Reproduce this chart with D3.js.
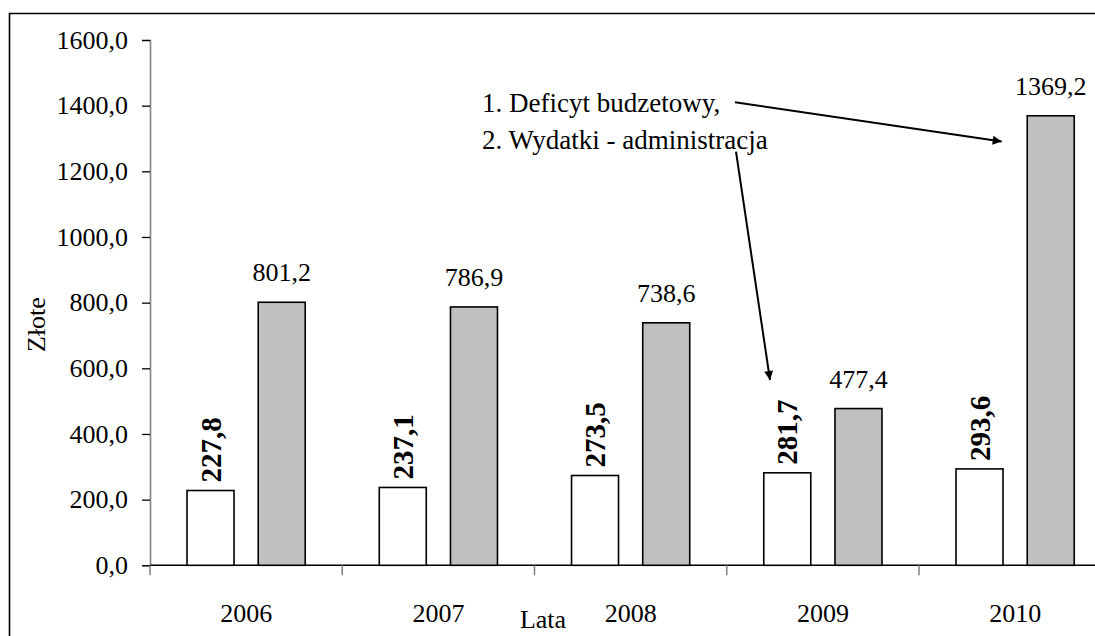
<!DOCTYPE html>
<html>
<head>
<meta charset="utf-8">
<script src="https://cdn.jsdelivr.net/npm/d3@7"></script>
<style>
  html, body { margin: 0; padding: 0; background: #fff; }
  svg { display: block; }
  svg text { font-family: "Liberation Serif", "Times New Roman", serif !important; fill: #000; }
</style>
</head>
<body>
<svg id="chart" width="1095" height="636"></svg>
<script>
const years = ["2006", "2007", "2008", "2009", "2010"];
const administracja = [227.8, 237.1, 273.5, 281.7, 293.6];
const deficyt = [801.2, 786.9, 738.6, 477.4, 1369.2];
const yTicks = [0, 200, 400, 600, 800, 1000, 1200, 1400, 1600];
const seriesKeys = ["administracja", "deficyt"];
const annotationLines = ["1. Deficyt budzetowy,", "2. Wydatki - administracja"];

const fmt = v => d3.format(".1f")(v).replace(".", ",");
const FONT = "'Liberation Serif', 'Times New Roman', serif";

const svg = d3.select("#chart").attr("font-family", FONT);

// outer frame (left and top edges visible, rest cropped)
svg.append("path")
  .attr("d", "M9.5,636 L9.5,13.5 L1095,13.5")
  .attr("fill", "none").attr("stroke", "#000").attr("stroke-width", 1.6);

const x0 = 150, yBase = 565.3, yTop = 40;
const step = 192.25;
const x = d3.scaleBand().domain(years).range([x0, x0 + step * years.length]).padding(0);
const xs = d3.scaleBand().domain(seriesKeys).range([0, x.bandwidth()]).paddingInner(0.34).paddingOuter(0.52);
const y = d3.scaleLinear().domain([0, 1600]).range([yBase, yTop]);

// Y axis
const yAxis = svg.append("g").attr("transform", `translate(${x0},0)`)
  .call(d3.axisLeft(y).tickValues(yTicks).tickFormat(fmt).tickSize(8).tickPadding(14));
yAxis.attr("font-family", FONT).attr("font-size", 26);
yAxis.select(".domain").attr("stroke", "#808080").attr("stroke-width", 1.6);
yAxis.selectAll(".tick line").attr("stroke", "#000").attr("stroke-width", 1.3);
yAxis.selectAll(".tick text").attr("font-size", 26).attr("fill", "#000")
  .style("font-family", FONT);

// X axis baseline
svg.append("line").attr("x1", x0).attr("x2", 1095).attr("y1", yBase).attr("y2", yBase)
  .attr("stroke", "#000").attr("stroke-width", 1.5);
// x ticks at category boundaries
svg.append("g").selectAll("line").data(years).join("line")
  .attr("x1", d => x(d)).attr("x2", d => x(d))
  .attr("y1", yBase).attr("y2", yBase + 10)
  .attr("stroke", "#808080").attr("stroke-width", 1.5);
// x labels
svg.append("g").selectAll("text").data(years).join("text")
  .attr("x", d => x(d) + x.bandwidth() / 2).attr("y", 621.7)
  .attr("text-anchor", "middle").attr("font-size", 26).style("font-family", FONT).text(d => d);

// bars
const g = svg.append("g");
years.forEach((yr, i) => {
  const bx = x(yr);
  const wx = bx + xs("administracja");
  g.append("rect")
    .attr("x", wx).attr("y", y(administracja[i]))
    .attr("width", xs.bandwidth()).attr("height", yBase - y(administracja[i]))
    .attr("fill", "#fff").attr("stroke", "#000").attr("stroke-width", 1.6);
  const gx = bx + xs("deficyt");
  g.append("rect")
    .attr("x", gx).attr("y", y(deficyt[i]))
    .attr("width", xs.bandwidth()).attr("height", yBase - y(deficyt[i]))
    .attr("fill", "#c0c0c0").attr("stroke", "#000").attr("stroke-width", 1.6);
  g.append("text")
    .attr("transform", `translate(${wx + xs.bandwidth() / 2},${y(administracja[i]) - 8}) rotate(-90)`)
    .attr("dy", "0.35em").attr("font-size", 29).attr("font-weight", "bold")
    .style("font-family", FONT)
    .text(fmt(administracja[i]));
  g.append("text")
    .attr("x", gx + xs.bandwidth() / 2).attr("y", y(deficyt[i]) - 21)
    .attr("text-anchor", "middle").attr("font-size", 26)
    .style("font-family", FONT)
    .text(fmt(deficyt[i]));
});

// axis titles
svg.append("text").attr("transform", "translate(45,352) rotate(-90)")
  .attr("font-size", 26).style("font-family", FONT).text("Złote");
svg.append("text").attr("x", 543).attr("y", 628.3).attr("text-anchor", "middle")
  .attr("font-size", 26).style("font-family", FONT).text("Lata");

// annotation
svg.append("text").attr("x", 482).attr("y", 111.7).attr("font-size", 27)
  .style("font-family", FONT).text(annotationLines[0]);
svg.append("text").attr("x", 482).attr("y", 149.3).attr("font-size", 27)
  .style("font-family", FONT).text(annotationLines[1]);

svg.append("defs").append("marker")
  .attr("id", "arrow").attr("viewBox", "0 0 10 10")
  .attr("refX", 10).attr("refY", 5)
  .attr("markerWidth", 5.5).attr("markerHeight", 4.5)
  .attr("markerUnits", "strokeWidth").attr("orient", "auto")
  .append("path").attr("d", "M0,0 L10,5 L0,10 Z").attr("fill", "#000");

svg.append("line").attr("x1", 735).attr("y1", 102.3).attr("x2", 1001.7).attr("y2", 141.5)
  .attr("stroke", "#000").attr("stroke-width", 2).attr("marker-end", "url(#arrow)");
svg.append("line").attr("x1", 736).attr("y1", 151.7).attr("x2", 770).attr("y2", 380)
  .attr("stroke", "#000").attr("stroke-width", 2).attr("marker-end", "url(#arrow)");
</script>
</body>
</html>
